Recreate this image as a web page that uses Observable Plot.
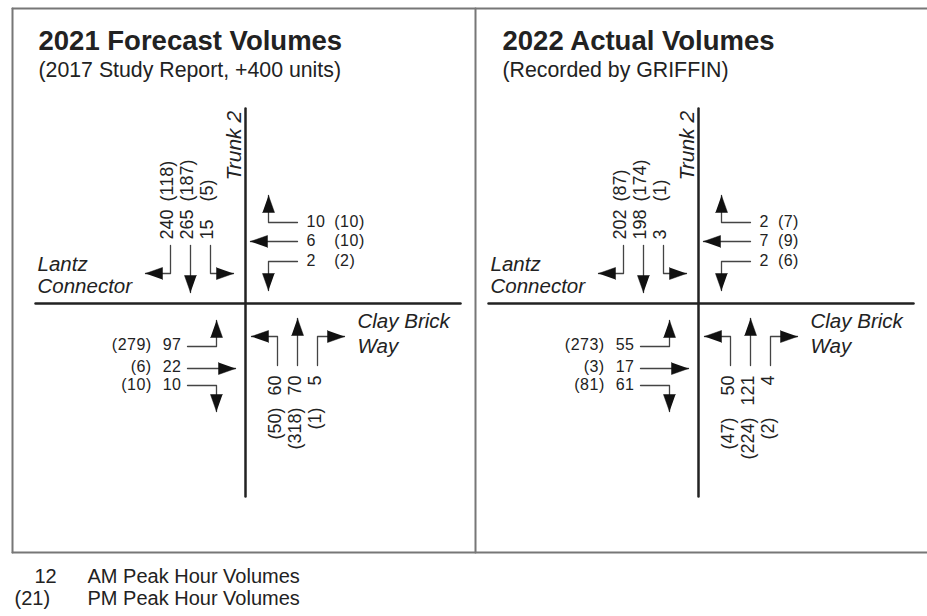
<!DOCTYPE html>
<html><head><meta charset="utf-8">
<script src="https://cdn.jsdelivr.net/npm/d3@7"></script>
<script src="https://cdn.jsdelivr.net/npm/@observablehq/plot@0.6"></script>
<style>body{margin:0;background:#fff;} svg{display:block} .lbl text{letter-spacing:0.5px}</style>
</head><body><div id="chart"></div>
<script>
// ---- data ----
const panelTitles = ["2021 Forecast Volumes", "2022 Actual Volumes"];
const panelSubtitles = ["(2017 Study Report, +400 units)", "(Recorded by GRIFFIN)"];
const northStreet = "Trunk 2";
const westStreet = ["Lantz", "Connector"];
const eastStreet = ["Clay Brick", "Way"];
// southbound (from Trunk 2): [right turn, through, left turn]
const sbAM = [[240, 265, 15], [202, 198, 3]];
const sbPM = [[118, 187, 5], [87, 174, 1]];
// westbound: [right turn, through, left turn]
const wbAM = [[10, 6, 2], [2, 7, 2]];
const wbPM = [[10, 10, 2], [7, 9, 6]];
// eastbound (from Lantz Connector): [left turn, through, right turn]
const ebAM = [[97, 22, 10], [55, 17, 61]];
const ebPM = [[279, 6, 10], [273, 3, 81]];
// northbound: [left turn, through, right turn]
const nbAM = [[60, 70, 5], [50, 121, 4]];
const nbPM = [[50, 318, 1], [47, 224, 2]];
const legendKeys = ["12", "(21)"];
const legendLabels = ["AM Peak Hour Volumes", "PM Peak Hour Volumes"];

// ---- layout ----
const W = 927, H = 616;
const FONT = "Liberation Sans, Arial, Helvetica, sans-serif";
const FS = 16;   // horizontal volume labels
const FSV = 18;  // rotated volume labels
const centers = [245, 698];
const CY = 303;
const titleX = [38, 502];
function tw(s, fs) { let w = 0; for (const c of s) w += /[0-9]/.test(c) ? 0.556 : (c === "(" || c === ")") ? 0.333 : 0.278; return w * fs; }

const frame = [], roads = [], stems = [], heads = [];
const hStart = [], hEnd = [], vStart = [], vEnd = [];
const italic = [], italicV = [], titles = [], subs = [];

[[12, 8, 927, 8], [12, 552, 927, 552], [12, 8, 12, 552], [475, 8, 475, 552]].forEach((s, i) => {
  frame.push({id: "f" + i, x: s[0], y: s[1]}, {id: "f" + i, x: s[2], y: s[3]});
});

function addArrow(id, pts, dir) {
  pts.forEach(([x, y]) => stems.push({id, x, y}));
  const [tx, ty] = pts[pts.length - 1];
  const [dx, dy] = dir, L = 17, HW = 6;
  const bx = tx - dx * L, by = ty - dy * L, nx = -dy, ny = dx;
  heads.push({id, x: tx, y: ty}, {id, x: bx + nx * HW, y: by + ny * HW}, {id, x: bx - nx * HW, y: by - ny * HW});
}

for (let p = 0; p < 2; p++) {
  const cx = centers[p];
  roads.push({id: "v" + p, x: cx, y: 108}, {id: "v" + p, x: cx, y: 496});
  roads.push({id: "h" + p, x: cx - 210, y: CY}, {id: "h" + p, x: cx + 215, y: CY});

  // southbound
  const sbX = [-75, -55, -35].map(d => cx + d);
  addArrow(`sb${p}0`, [[sbX[0], CY - 58], [sbX[0], CY - 30], [cx - 100, CY - 30]], [-1, 0]);
  addArrow(`sb${p}1`, [[sbX[1], CY - 58], [sbX[1], CY - 11]], [0, 1]);
  addArrow(`sb${p}2`, [[sbX[2], CY - 58], [sbX[2], CY - 30], [cx - 12, CY - 30]], [1, 0]);
  {
    const am = sbAM[p].map(String), mw = d3.max(am, s => tw(s, FSV));
    am.forEach((t, i) => {
      vStart.push({x: sbX[i] - 3, y: CY - 64, text: t});
      vStart.push({x: sbX[i] - 3, y: CY - 64 - mw - 8, text: `(${sbPM[p][i]})`});
    });
  }
  // westbound
  const wr = [-81, -62, -42].map(d => CY + d);
  addArrow(`wb${p}0`, [[cx + 52, wr[0]], [cx + 23, wr[0]], [cx + 23, CY - 108]], [0, -1]);
  addArrow(`wb${p}1`, [[cx + 52, wr[1]], [cx + 5, wr[1]]], [-1, 0]);
  addArrow(`wb${p}2`, [[cx + 52, wr[2]], [cx + 23, wr[2]], [cx + 23, CY - 13]], [0, 1]);
  {
    const am = wbAM[p].map(String), mw = d3.max(am, s => tw(s, FS) + s.length * 0.5);
    am.forEach((t, i) => {
      hStart.push({x: cx + 61, y: wr[i] - 1, text: t});
      hStart.push({x: cx + 61 + mw + 9, y: wr[i] - 1, text: `(${wbPM[p][i]})`});
    });
  }
  // eastbound
  const er = [43, 65, 82].map(d => CY + d);
  const el = [41, 63, 81].map(d => CY + d);
  addArrow(`eb${p}0`, [[cx - 58, er[0]], [cx - 29, er[0]], [cx - 29, CY + 17]], [0, -1]);
  addArrow(`eb${p}1`, [[cx - 58, er[1]], [cx - 10, er[1]]], [1, 0]);
  addArrow(`eb${p}2`, [[cx - 58, er[2]], [cx - 29, er[2]], [cx - 29, CY + 108]], [0, 1]);
  {
    const am = ebAM[p].map(String), mw = d3.max(am, s => tw(s, FS) + s.length * 0.5);
    am.forEach((t, i) => {
      hEnd.push({x: cx - 64, y: el[i], text: t});
      hEnd.push({x: cx - 64 - mw - 11, y: el[i], text: `(${ebPM[p][i]})`});
    });
  }
  // northbound
  const nbX = [32, 52, 72].map(d => cx + d);
  addArrow(`nb${p}0`, [[nbX[0], CY + 62], [nbX[0], CY + 33], [cx + 6, CY + 33]], [-1, 0]);
  addArrow(`nb${p}1`, [[nbX[1], CY + 62], [nbX[1], CY + 15]], [0, -1]);
  addArrow(`nb${p}2`, [[nbX[2], CY + 62], [nbX[2], CY + 33], [cx + 99, CY + 33]], [1, 0]);
  {
    const am = nbAM[p].map(String), mw = d3.max(am, s => tw(s, FSV));
    am.forEach((t, i) => {
      vEnd.push({x: nbX[i] - 2, y: CY + 72, text: t});
      vEnd.push({x: nbX[i] - 2, y: CY + 72 + mw + 12, text: `(${nbPM[p][i]})`});
    });
  }
  // street names
  italic.push({x: cx - 208, y: 264, text: westStreet[0]}, {x: cx - 208, y: 286, text: westStreet[1]});
  italic.push({x: cx + 112, y: 321, text: eastStreet[0]}, {x: cx + 112, y: 346, text: eastStreet[1]});
  italicV.push({x: cx - 11, y: 180, text: northStreet});
  titles.push({x: titleX[p], y: 41, text: panelTitles[p]});
  subs.push({x: titleX[p], y: 70, text: panelSubtitles[p]});
}
const legendRows = [
  {kx: 34, x: 87, y: 576, key: legendKeys[0], text: legendLabels[0]},
  {kx: 14, x: 87, y: 598, key: legendKeys[1], text: legendLabels[1]}
];

const txt = {fill: "#222", fontFamily: FONT};
const chart = Plot.plot({
  width: W, height: H, margin: 0,
  x: {domain: [0, W], range: [0, W], axis: null},
  y: {domain: [0, H], range: [0, H], axis: null},
  marks: [
    Plot.line(frame, {x: "x", y: "y", z: "id", stroke: "#777", strokeWidth: 2}),
    Plot.line(roads, {x: "x", y: "y", z: "id", stroke: "#222", strokeWidth: 2.5}),
    Plot.line(stems, {x: "x", y: "y", z: "id", stroke: "#444", strokeWidth: 1.3}),
    Plot.line(heads, {x: "x", y: "y", z: "id", fill: "#111", stroke: "#111", strokeWidth: 0.5}),
    Plot.text(hStart, {x: "x", y: "y", text: "text", textAnchor: "start", fontSize: FS, className: "lbl", ...txt}),
    Plot.text(hEnd, {x: "x", y: "y", text: "text", textAnchor: "end", fontSize: FS, className: "lbl", ...txt}),
    Plot.text(vStart, {x: "x", y: "y", text: "text", textAnchor: "start", rotate: -90, fontSize: FSV, ...txt}),
    Plot.text(vEnd, {x: "x", y: "y", text: "text", textAnchor: "end", rotate: -90, fontSize: FSV, ...txt}),
    Plot.text(italic, {x: "x", y: "y", text: "text", textAnchor: "start", fontSize: 20.5, fontStyle: "italic", ...txt}),
    Plot.text(italicV, {x: "x", y: "y", text: "text", textAnchor: "start", rotate: -90, fontSize: 21, fontStyle: "italic", ...txt}),
    Plot.text(titles, {x: "x", y: "y", text: "text", textAnchor: "start", fontSize: 27.5, fontWeight: "bold", ...txt}),
    Plot.text(subs, {x: "x", y: "y", text: "text", textAnchor: "start", fontSize: 21.3, ...txt}),
    Plot.text(legendRows, {x: "kx", y: "y", text: "key", textAnchor: "start", fontSize: 20, ...txt}),
    Plot.text(legendRows, {x: "x", y: "y", text: "text", textAnchor: "start", fontSize: 20, ...txt})
  ]
});
document.getElementById("chart").append(chart);
</script>
</body></html>
